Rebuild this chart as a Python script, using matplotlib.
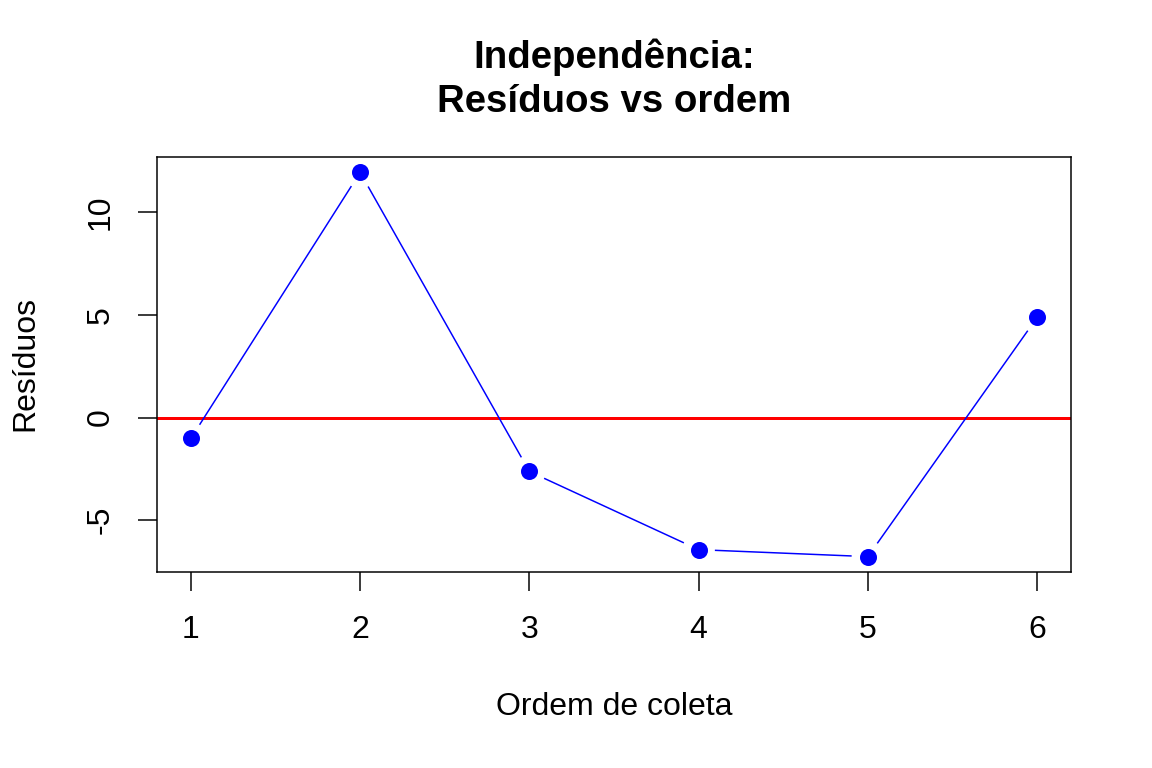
import matplotlib
matplotlib.use("Agg")
import matplotlib.pyplot as plt
import numpy as np

plt.rcParams['font.family'] = ['Liberation Sans', 'DejaVu Sans']

ordem = [1, 2, 3, 4, 5, 6]
residuos = [-1.02, 11.95, -2.63, -6.44, -6.78, 4.88]
yticks = [-5, 0, 5, 10]

fig = plt.figure(figsize=(8, 16 / 3), dpi=144)
ax = fig.add_axes([157 / 1152, 1 - 572 / 768, 914 / 1152, 415 / 768])

# R style 4% axis expansion
xr = max(ordem) - min(ordem)
yr = max(residuos) - min(residuos)
ax.set_xlim(min(ordem) - 0.04 * xr, max(ordem) + 0.04 * xr)
ax.set_ylim(min(residuos) - 0.04 * yr, max(residuos) + 0.04 * yr)

ax.axhline(0, color='red', lw=1.5, zorder=1)

# type="b": segments with gaps around the points (computed in pixels)
gap = 17
pts = ax.transData.transform(np.column_stack([ordem, residuos]))
inv = ax.transData.inverted()
for i in range(len(pts) - 1):
    a, b = pts[i], pts[i + 1]
    d = b - a
    L = np.hypot(*d)
    if L <= 2 * gap:
        continue
    u = d / L
    seg = inv.transform(np.array([a + u * gap, b - u * gap]))
    ax.plot(seg[:, 0], seg[:, 1], color='blue', lw=0.75, zorder=2)

ax.plot(ordem, residuos, 'o', color='blue', ms=7.5, mec='blue', zorder=3)

ax.set_xticks(ordem)
ax.set_yticks(yticks)
ax.set_yticklabels([str(v) for v in yticks], rotation=90, va='center')
ax.tick_params(direction='out', length=9.5, width=0.75, labelsize=16, color='black')
ax.tick_params(axis='x', pad=12)
ax.tick_params(axis='y', pad=11)
for s in ax.spines.values():
    s.set_linewidth(0.75)
ax.spines['bottom'].set_bounds(0.8, 6.2)

cx = 614 / 1152
fig.text(cx, 1 - 57 / 768, 'Independência:', ha='center', va='center',
         fontsize=19.2, fontweight='bold')
fig.text(cx, 1 - 102 / 768, 'Resíduos vs ordem', ha='center', va='center',
         fontsize=19.2, fontweight='bold')
fig.text(cx, 1 - 707 / 768, 'Ordem de coleta', ha='center', va='center', fontsize=16)
fig.text(25 / 1152, 1 - 364 / 768, 'Resíduos', ha='center', va='center',
         rotation=90, fontsize=16)

fig.savefig('out.png', dpi=144)
